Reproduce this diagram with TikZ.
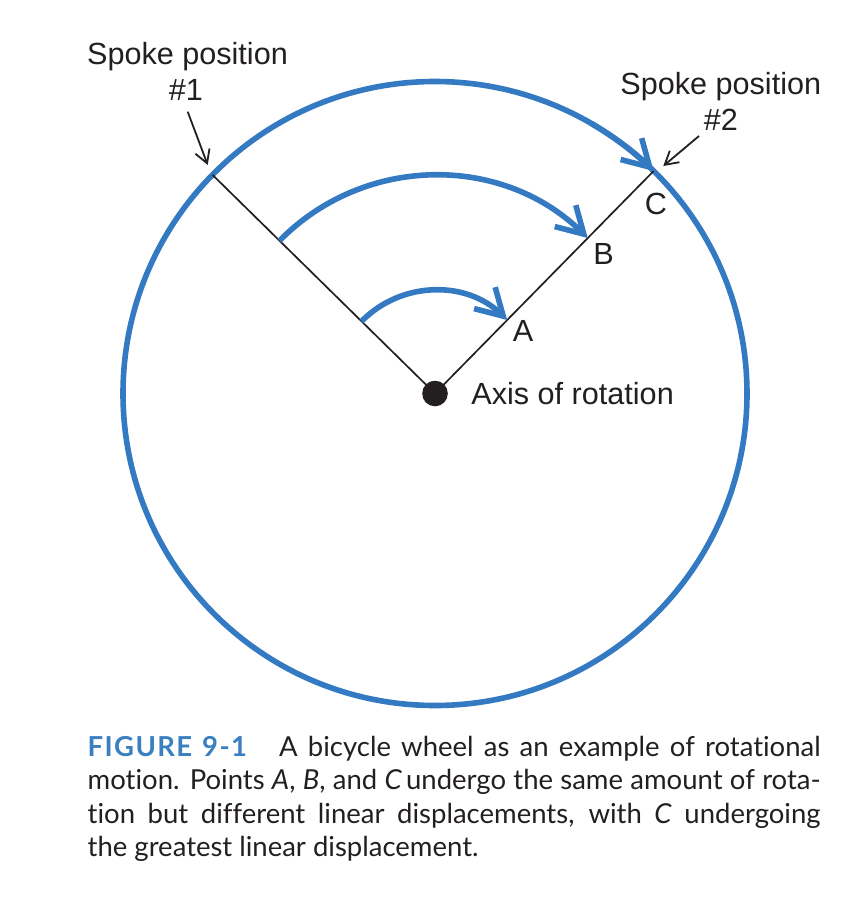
\documentclass[tikz,border=0pt]{standalone}
\usepackage{fontspec}
\setmainfont{Liberation Sans}
\newfontfamily\capfont[Ligatures=NoCommon]{Lato}
\usetikzlibrary{arrows.meta,calc}
\definecolor{wheelblue}{RGB}{52,122,194}
\definecolor{figblue}{RGB}{58,127,192}
\definecolor{ink}{RGB}{35,31,32}
\begin{document}
\begin{tikzpicture}[x=0.5pt,y=0.5pt,
  wheel/.style={draw=wheelblue,line width=2.8pt},
  turn/.style={wheel,-{Straight Barb[length=13pt,width=15pt]}},
  spoke/.style={draw=ink,line width=0.85pt},
  ptr/.style={draw=ink,line width=0.9pt,-{Straight Barb[length=6.5pt,width=7.5pt]}},
  lbl/.style={font=\fontsize{15.3pt}{18pt}\selectfont,inner sep=0pt,text=ink,anchor=base},
  capline/.style={font=\capfont\fontsize{13.75pt}{16.5pt}\selectfont,inner sep=0pt,anchor=base west,text=ink}]
\useasboundingbox (0,0) rectangle (864,-904);
% hub
\node[circle,fill=ink,minimum size=12.8pt,inner sep=0pt] (O) at (435,-393.5) {};
% spoke points
\coordinate (S1) at ($(O)+(135.5:312)$);
\coordinate (S2) at ($(O)+(45.5:312)$);
\coordinate (qA) at ($(O)+(135.5:103)$);
\coordinate (qB) at ($(O)+(135.5:218)$);
\coordinate (pA) at ($(O)+(45.5:103)$);
\coordinate (pB) at ($(O)+(45.5:218)$);
\coordinate (rC) at ($(O)+(60:312)$);
% wheel rim
\draw[wheel] (O.center) circle[radius=312];
% spokes
\draw[spoke] (O.center) -- (S1);
\draw[spoke] (O.center) -- (S2);
% rotation arcs
\draw[turn] (qA) arc[start angle=135.5,end angle=45.5,radius=103];
\draw[turn] (qB) arc[start angle=135.5,end angle=45.5,radius=218];
\draw[turn] (rC) arc[start angle=60,end angle=45.5,radius=312];
% point labels
\node[lbl] (lA) at (523,-341) {A};
\node[lbl] (lB) at (603.5,-264) {B};
\node[lbl] (lC) at (656,-214.5) {C};
\node[lbl,anchor=base west] (axis) at (471,-404) {Axis of rotation};
% spoke position labels
\node[lbl] (sp1) at (187.5,-65) {Spoke position};
\node[lbl] (n1) at (186,-101) {\#1};
\node[lbl] (sp2) at (720.8,-95) {Spoke position};
\node[lbl] (n2) at (720.8,-131) {\#2};
\coordinate (t1) at (187.7,-111.7);
\coordinate (h1) at (207.7,-165);
\coordinate (t2) at (699,-136);
\coordinate (h2) at (663.3,-166);
\draw[ptr] (t1) -- (h1);
\draw[ptr] (t2) -- (h2);
% caption
\node[capline] (cap1) at (87.3,-756) {\makebox[366.5pt][s]{{\color{figblue}\bfseries\addfontfeatures{LetterSpace=5}FIGURE\hspace{5pt}9-1}\hspace{16pt}A bicycle wheel as an example of rotational}};
\node[capline] (cap2) at (87.3,-789.5) {\makebox[366.5pt][s]{motion. Points \textit{A}, \textit{B}, and \textit{C}\hspace{2pt}undergo the same amount of rota-}};
\node[capline] (cap3) at (87.3,-823) {\makebox[366.5pt][s]{tion but different linear displacements, with \textit{C} undergoing}};
\node[capline] (cap4) at (87.3,-856) {the greatest linear displacement.};
\end{tikzpicture}
\end{document}
